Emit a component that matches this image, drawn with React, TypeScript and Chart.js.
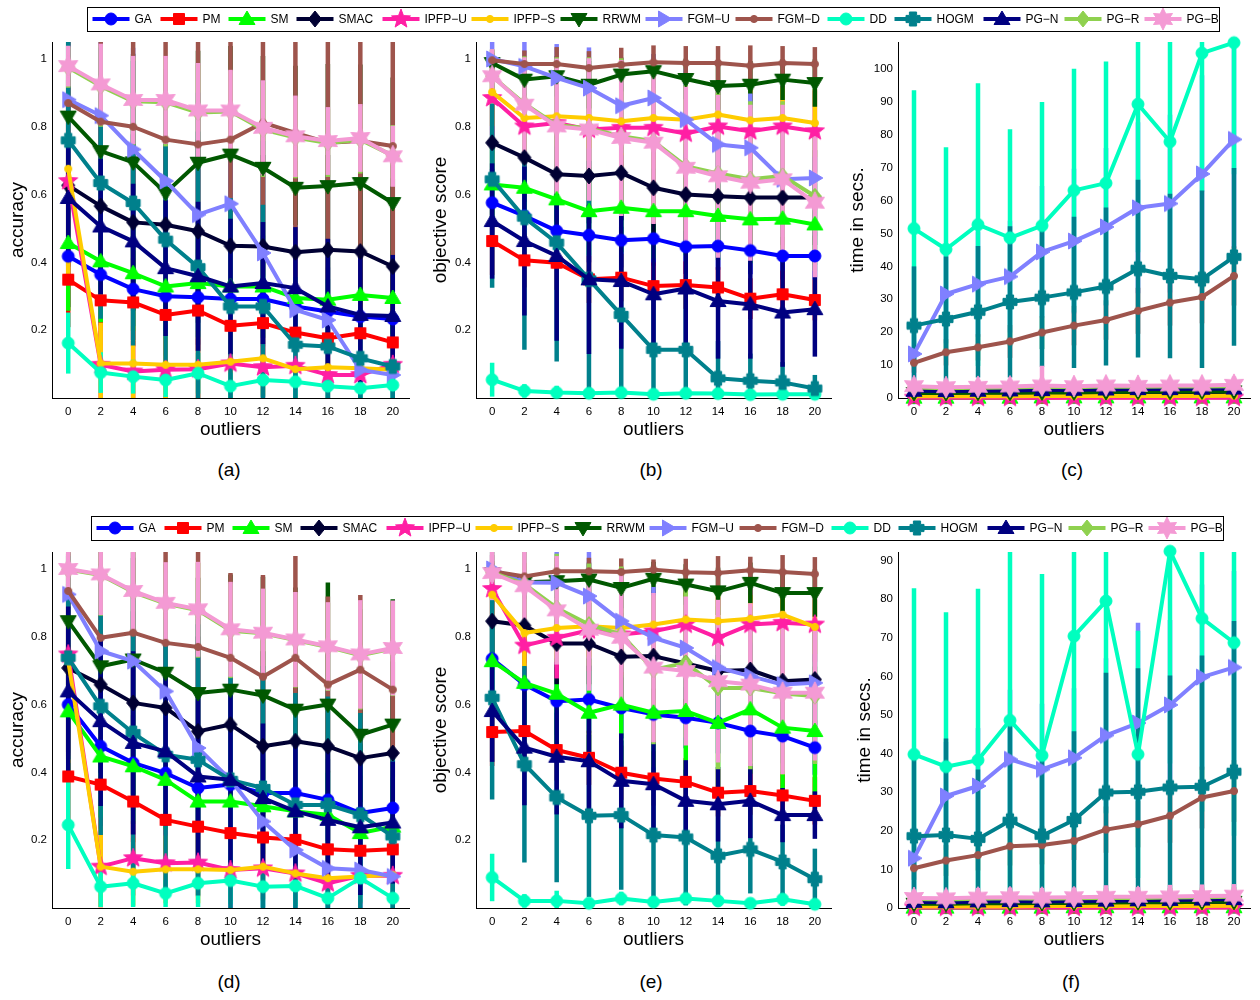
import React, { useEffect, useRef } from 'react';
import { Chart, registerables } from 'chart.js';

Chart.register(...registerables);
Chart.defaults.font.family = '"Liberation Sans", Arial, Helvetica, sans-serif';
Chart.defaults.color = '#000';

// ---------------- data ----------------
const SERIES = ['GA', 'PM', 'SM', 'SMAC', 'IPFP−U', 'IPFP−S', 'RRWM', 'FGM−U', 'FGM−D', 'DD', 'HOGM', 'PG−N', 'PG−R', 'PG−B'];
const COLORS = ['#0000ff', '#ff0000', '#00ff00', '#000033', '#ff1fa4', '#ffcc00', '#005800', '#8080ff', '#9e544c', '#00ffbf', '#00808c', '#000080', '#8fd14f', '#f49ad4'];
const MARKERS = ['circle', 'square', 'triUp', 'diamond', 'pentagram', 'dot', 'triDown', 'triRight', 'dot', 'circle', 'plus', 'triUp', 'diamond', 'hexagram'];
const OUTLIERS = [0, 2, 4, 6, 8, 10, 12, 14, 16, 18, 20];
const ACC_TICKS = [0.2, 0.4, 0.6, 0.8, 1];
const TIME_TICKS_C = [0, 10, 20, 30, 40, 50, 60, 70, 80, 90, 100];
const TIME_TICKS_F = [0, 10, 20, 30, 40, 50, 60, 70, 80, 90];

// (a) accuracy
const ACC_A = [
  [0.418, 0.364, 0.321, 0.300, 0.297, 0.292, 0.292, 0.270, 0.255, 0.240, 0.233],
  [0.349, 0.288, 0.282, 0.245, 0.258, 0.213, 0.221, 0.193, 0.176, 0.191, 0.164],
  [0.457, 0.403, 0.368, 0.329, 0.339, 0.329, 0.329, 0.295, 0.290, 0.304, 0.295],
  [0.627, 0.566, 0.518, 0.511, 0.492, 0.449, 0.447, 0.430, 0.437, 0.432, 0.388],
  [0.640, 0.098, 0.078, 0.083, 0.085, 0.102, 0.091, 0.095, 0.068, 0.068, 0.098],
  [0.676, 0.102, 0.102, 0.098, 0.098, 0.107, 0.117, 0.085, 0.091, 0.088, 0.083],
  [0.830, 0.728, 0.695, 0.605, 0.694, 0.718, 0.679, 0.620, 0.625, 0.634, 0.575],
  [0.880, 0.833, 0.733, 0.640, 0.541, 0.573, 0.428, 0.260, 0.230, 0.083, 0.068],
  [0.870, 0.815, 0.800, 0.762, 0.748, 0.762, 0.812, 0.782, 0.753, 0.758, 0.743],
  [0.162, 0.075, 0.063, 0.053, 0.073, 0.035, 0.053, 0.048, 0.035, 0.029, 0.038],
  [0.760, 0.634, 0.575, 0.467, 0.386, 0.270, 0.270, 0.157, 0.152, 0.117, 0.093],
  [0.590, 0.506, 0.462, 0.383, 0.359, 0.329, 0.339, 0.324, 0.270, 0.245, 0.242],
  [0.975, 0.920, 0.875, 0.872, 0.842, 0.845, 0.792, 0.768, 0.752, 0.762, 0.715],
  [0.979, 0.925, 0.879, 0.879, 0.848, 0.848, 0.797, 0.772, 0.758, 0.767, 0.713],
];
const ACC_A_ERR = [
  [0.15, 0.15, 0.15, 0.14, 0.14, 0.14, 0.14, 0.13, 0.13, 0.13, 0.13],
  [0.14, 0.13, 0.13, 0.12, 0.12, 0.11, 0.11, 0.10, 0.10, 0.10, 0.10],
  [0.20, 0.18, 0.17, 0.16, 0.16, 0.15, 0.15, 0.15, 0.14, 0.14, 0.14],
  [0.24, 0.26, 0.26, 0.27, 0.27, 0.28, 0.27, 0.27, 0.28, 0.27, 0.26],
  [0.30, 0.10, 0.09, 0.09, 0.09, 0.10, 0.09, 0.10, 0.08, 0.08, 0.09],
  [0.32, 0.12, 0.11, 0.10, 0.10, 0.11, 0.11, 0.09, 0.10, 0.09, 0.09],
  [0.25, 0.30, 0.32, 0.35, 0.33, 0.32, 0.33, 0.36, 0.36, 0.35, 0.37],
  [0.20, 0.25, 0.30, 0.33, 0.36, 0.36, 0.33, 0.25, 0.24, 0.12, 0.10],
  [0.30, 0.38, 0.42, 0.45, 0.48, 0.47, 0.45, 0.48, 0.50, 0.50, 0.50],
  [0.09, 0.06, 0.05, 0.05, 0.06, 0.04, 0.05, 0.05, 0.04, 0.03, 0.04],
  [0.30, 0.40, 0.42, 0.42, 0.40, 0.32, 0.30, 0.20, 0.20, 0.15, 0.12],
  [0.17, 0.20, 0.17, 0.20, 0.22, 0.20, 0.18, 0.18, 0.20, 0.20, 0.18],
  [0.06, 0.12, 0.13, 0.13, 0.14, 0.12, 0.14, 0.12, 0.10, 0.10, 0.09],
  [0.06, 0.12, 0.13, 0.13, 0.14, 0.12, 0.14, 0.12, 0.10, 0.10, 0.09],
];

// (b) objective score
const OBJ_B = [
  [0.576, 0.537, 0.493, 0.480, 0.465, 0.470, 0.446, 0.448, 0.435, 0.419, 0.419],
  [0.463, 0.406, 0.399, 0.350, 0.355, 0.330, 0.333, 0.326, 0.293, 0.306, 0.289],
  [0.630, 0.620, 0.586, 0.551, 0.561, 0.551, 0.551, 0.537, 0.527, 0.529, 0.512],
  [0.753, 0.709, 0.660, 0.655, 0.664, 0.620, 0.600, 0.595, 0.591, 0.591, 0.591],
  [0.885, 0.801, 0.811, 0.792, 0.797, 0.797, 0.780, 0.801, 0.787, 0.801, 0.787],
  [0.902, 0.826, 0.831, 0.826, 0.816, 0.826, 0.821, 0.836, 0.819, 0.826, 0.811],
  [0.988, 0.939, 0.949, 0.924, 0.954, 0.964, 0.941, 0.920, 0.924, 0.939, 0.929],
  [1.000, 0.978, 0.944, 0.914, 0.862, 0.885, 0.821, 0.748, 0.738, 0.645, 0.649],
  [0.996, 0.985, 0.985, 0.973, 0.983, 0.990, 0.988, 0.988, 0.980, 0.988, 0.985],
  [0.054, 0.021, 0.016, 0.014, 0.016, 0.011, 0.014, 0.013, 0.010, 0.011, 0.011],
  [0.645, 0.532, 0.458, 0.350, 0.245, 0.142, 0.142, 0.058, 0.051, 0.046, 0.028],
  [0.522, 0.463, 0.419, 0.350, 0.345, 0.306, 0.323, 0.286, 0.276, 0.252, 0.262],
  [0.949, 0.868, 0.805, 0.795, 0.772, 0.757, 0.684, 0.662, 0.645, 0.655, 0.595],
  [0.949, 0.865, 0.801, 0.792, 0.767, 0.753, 0.679, 0.654, 0.635, 0.645, 0.576],
];
const OBJ_B_ERR = [
  [0.10, 0.09, 0.09, 0.08, 0.08, 0.08, 0.08, 0.07, 0.07, 0.07, 0.07],
  [0.10, 0.08, 0.08, 0.07, 0.07, 0.07, 0.07, 0.06, 0.06, 0.07, 0.06],
  [0.12, 0.12, 0.12, 0.13, 0.13, 0.14, 0.13, 0.13, 0.13, 0.13, 0.12],
  [0.12, 0.13, 0.14, 0.14, 0.14, 0.15, 0.15, 0.15, 0.14, 0.14, 0.14],
  [0.11, 0.12, 0.12, 0.13, 0.13, 0.12, 0.13, 0.12, 0.13, 0.12, 0.12],
  [0.10, 0.09, 0.09, 0.09, 0.10, 0.09, 0.10, 0.09, 0.10, 0.09, 0.10],
  [0.03, 0.06, 0.06, 0.07, 0.05, 0.05, 0.06, 0.07, 0.07, 0.06, 0.07],
  [0.06, 0.08, 0.10, 0.12, 0.14, 0.13, 0.15, 0.16, 0.16, 0.17, 0.17],
  [0.03, 0.04, 0.05, 0.05, 0.05, 0.05, 0.05, 0.05, 0.06, 0.05, 0.05],
  [0.05, 0.02, 0.02, 0.01, 0.01, 0.01, 0.01, 0.01, 0.01, 0.01, 0.01],
  [0.32, 0.39, 0.35, 0.35, 0.26, 0.20, 0.18, 0.11, 0.08, 0.06, 0.04],
  [0.17, 0.22, 0.25, 0.22, 0.20, 0.18, 0.17, 0.17, 0.16, 0.16, 0.14],
  [0.08, 0.14, 0.20, 0.21, 0.23, 0.24, 0.24, 0.24, 0.23, 0.22, 0.22],
  [0.08, 0.14, 0.20, 0.21, 0.23, 0.24, 0.24, 0.24, 0.23, 0.22, 0.22],
];

// (c) time in secs.
const TIME_C = [
  [0.2, 0.2, 0.2, 0.3, 0.3, 0.3, 0.3, 0.3, 0.4, 0.4, 0.4],
  [0.1, 0.1, 0.1, 0.1, 0.1, 0.2, 0.2, 0.2, 0.2, 0.2, 0.2],
  [0.1, 0.1, 0.1, 0.1, 0.2, 0.2, 0.2, 0.2, 0.2, 0.2, 0.2],
  [1.0, 1.0, 1.1, 1.1, 1.2, 1.2, 1.3, 1.3, 1.4, 1.4, 1.5],
  [0.1, 0.1, 0.1, 0.1, 0.1, 0.1, 0.1, 0.1, 0.1, 0.1, 0.1],
  [0.5, 0.5, 0.5, 0.5, 0.6, 0.6, 0.6, 0.6, 0.6, 0.6, 0.7],
  [1.5, 1.5, 1.6, 1.6, 1.7, 1.7, 1.8, 1.9, 1.9, 2.0, 2.0],
  [13.4, 31.6, 34.6, 36.9, 44.4, 47.7, 52.0, 57.8, 59.1, 68.1, 78.6],
  [10.7, 13.9, 15.4, 17.2, 19.9, 22.0, 23.7, 26.5, 29.0, 30.7, 37.1],
  [51.5, 45.2, 52.7, 48.7, 52.4, 63.1, 65.3, 89.3, 77.9, 104.8, 108.0],
  [22.0, 24.0, 26.2, 29.2, 30.5, 32.1, 33.9, 39.3, 37.1, 36.1, 42.9],
  [2.2, 2.1, 2.2, 2.3, 2.4, 2.5, 2.6, 2.7, 2.7, 2.8, 2.9],
  [3.2, 3.0, 3.1, 3.2, 3.4, 3.3, 3.5, 3.4, 3.5, 3.5, 3.6],
  [3.6, 3.3, 3.4, 3.5, 3.8, 3.6, 3.8, 3.7, 3.8, 3.8, 4.0],
];
const TIME_C_ERR = [
  [0.1, 0.1, 0.1, 0.1, 0.1, 0.1, 0.1, 0.1, 0.1, 0.1, 0.1],
  [0.1, 0.1, 0.1, 0.1, 0.1, 0.1, 0.1, 0.1, 0.1, 0.1, 0.1],
  [0.1, 0.1, 0.1, 0.1, 0.1, 0.1, 0.1, 0.1, 0.1, 0.1, 0.1],
  [0.4, 0.4, 0.4, 0.5, 0.5, 0.5, 0.5, 0.5, 0.6, 0.6, 0.6],
  [0.1, 0.1, 0.1, 0.1, 0.1, 0.1, 0.1, 0.1, 0.1, 0.1, 0.1],
  [0.2, 0.2, 0.2, 0.2, 0.2, 0.2, 0.2, 0.2, 0.2, 0.2, 0.3],
  [0.5, 0.5, 0.6, 0.6, 0.6, 0.6, 0.7, 0.7, 0.7, 0.8, 0.8],
  [8, 15, 16, 17, 20, 22, 24, 26, 27, 30, 33],
  [3, 4, 4, 5, 5, 6, 6, 7, 7, 8, 9],
  [42, 31, 43, 33, 37.6, 37, 37, 45, 40, 42, 40],
  [18, 19, 20, 23, 21, 23, 24, 27, 25, 27, 27],
  [0.8, 0.8, 0.8, 0.9, 0.9, 0.9, 1.0, 1.0, 1.0, 1.1, 1.1],
  [1.0, 1.0, 1.0, 1.2, 1.5, 1.2, 1.4, 1.3, 1.4, 1.4, 1.6],
  [2.0, 1.5, 1.5, 2.0, 6.0, 1.5, 2.0, 1.5, 2.0, 1.5, 2.5],
];

// (d) accuracy
const ACC_D = [
  [0.600, 0.477, 0.428, 0.398, 0.354, 0.364, 0.339, 0.339, 0.319, 0.280, 0.295],
  [0.388, 0.364, 0.314, 0.260, 0.240, 0.221, 0.208, 0.201, 0.173, 0.169, 0.173],
  [0.580, 0.447, 0.418, 0.378, 0.314, 0.314, 0.300, 0.285, 0.275, 0.221, 0.240],
  [0.708, 0.659, 0.605, 0.590, 0.521, 0.541, 0.477, 0.492, 0.477, 0.442, 0.457],
  [0.748, 0.122, 0.147, 0.132, 0.134, 0.112, 0.117, 0.102, 0.073, 0.095, 0.095],
  [0.728, 0.122, 0.107, 0.114, 0.114, 0.112, 0.122, 0.102, 0.088, 0.093, 0.098],
  [0.846, 0.713, 0.733, 0.694, 0.634, 0.644, 0.627, 0.585, 0.600, 0.511, 0.541],
  [0.925, 0.758, 0.728, 0.639, 0.472, 0.378, 0.255, 0.171, 0.117, 0.112, 0.093],
  [0.935, 0.797, 0.812, 0.782, 0.770, 0.738, 0.682, 0.738, 0.659, 0.703, 0.644],
  [0.245, 0.063, 0.073, 0.043, 0.073, 0.081, 0.063, 0.065, 0.029, 0.088, 0.029],
  [0.738, 0.595, 0.516, 0.452, 0.437, 0.378, 0.354, 0.304, 0.304, 0.275, 0.211],
  [0.639, 0.551, 0.487, 0.462, 0.388, 0.378, 0.324, 0.285, 0.260, 0.238, 0.252],
  [0.998, 0.982, 0.932, 0.898, 0.878, 0.818, 0.810, 0.790, 0.770, 0.745, 0.765],
  [1.000, 0.984, 0.935, 0.900, 0.881, 0.822, 0.812, 0.792, 0.772, 0.748, 0.767],
];
const ACC_D_ERR = [
  [0.15, 0.14, 0.14, 0.13, 0.13, 0.13, 0.12, 0.12, 0.12, 0.11, 0.11],
  [0.14, 0.13, 0.12, 0.11, 0.11, 0.10, 0.10, 0.10, 0.09, 0.09, 0.09],
  [0.20, 0.18, 0.17, 0.16, 0.15, 0.15, 0.14, 0.14, 0.13, 0.12, 0.12],
  [0.25, 0.26, 0.27, 0.27, 0.28, 0.28, 0.28, 0.28, 0.28, 0.27, 0.27],
  [0.30, 0.12, 0.11, 0.10, 0.10, 0.09, 0.09, 0.09, 0.07, 0.08, 0.08],
  [0.30, 0.12, 0.10, 0.10, 0.10, 0.09, 0.10, 0.09, 0.08, 0.08, 0.08],
  [0.20, 0.30, 0.30, 0.32, 0.34, 0.34, 0.35, 0.36, 0.36, 0.37, 0.37],
  [0.15, 0.30, 0.32, 0.35, 0.38, 0.40, 0.36, 0.30, 0.20, 0.20, 0.15],
  [0.20, 0.30, 0.28, 0.30, 0.30, 0.25, 0.30, 0.30, 0.26, 0.22, 0.26],
  [0.13, 0.06, 0.07, 0.04, 0.07, 0.07, 0.06, 0.06, 0.03, 0.07, 0.03],
  [0.30, 0.38, 0.40, 0.40, 0.40, 0.38, 0.36, 0.33, 0.32, 0.30, 0.25],
  [0.25, 0.25, 0.27, 0.22, 0.25, 0.25, 0.22, 0.20, 0.20, 0.20, 0.18],
  [0.08, 0.12, 0.12, 0.12, 0.14, 0.14, 0.13, 0.14, 0.13, 0.16, 0.14],
  [0.08, 0.12, 0.12, 0.12, 0.14, 0.14, 0.13, 0.14, 0.13, 0.16, 0.14],
];

// (e) objective score
const OBJ_E = [
  [0.735, 0.659, 0.610, 0.615, 0.590, 0.571, 0.561, 0.546, 0.522, 0.507, 0.473],
  [0.519, 0.522, 0.466, 0.443, 0.399, 0.382, 0.372, 0.340, 0.345, 0.332, 0.316],
  [0.728, 0.664, 0.632, 0.576, 0.600, 0.576, 0.581, 0.546, 0.586, 0.532, 0.522],
  [0.846, 0.833, 0.780, 0.780, 0.741, 0.743, 0.721, 0.699, 0.702, 0.669, 0.674],
  [0.941, 0.774, 0.797, 0.819, 0.807, 0.816, 0.836, 0.797, 0.836, 0.841, 0.836],
  [0.924, 0.811, 0.826, 0.831, 0.826, 0.836, 0.851, 0.846, 0.853, 0.865, 0.829],
  [0.988, 0.961, 0.964, 0.969, 0.944, 0.971, 0.954, 0.934, 0.959, 0.929, 0.929],
  [1.000, 0.960, 0.959, 0.920, 0.846, 0.797, 0.767, 0.709, 0.684, 0.659, 0.664],
  [0.993, 0.978, 0.993, 0.993, 0.991, 0.998, 0.990, 0.988, 0.996, 0.991, 0.985],
  [0.090, 0.021, 0.021, 0.014, 0.028, 0.018, 0.028, 0.021, 0.014, 0.026, 0.011],
  [0.620, 0.424, 0.326, 0.272, 0.274, 0.215, 0.208, 0.154, 0.173, 0.136, 0.085],
  [0.581, 0.473, 0.446, 0.433, 0.375, 0.365, 0.316, 0.306, 0.316, 0.274, 0.274],
  [0.990, 0.955, 0.885, 0.836, 0.807, 0.703, 0.723, 0.649, 0.649, 0.633, 0.625],
  [0.988, 0.949, 0.878, 0.821, 0.797, 0.709, 0.699, 0.669, 0.659, 0.635, 0.635],
];
const OBJ_E_ERR = [
  [0.10, 0.10, 0.10, 0.10, 0.09, 0.09, 0.09, 0.09, 0.09, 0.08, 0.08],
  [0.10, 0.09, 0.09, 0.08, 0.08, 0.08, 0.07, 0.07, 0.07, 0.07, 0.07],
  [0.12, 0.14, 0.15, 0.16, 0.18, 0.18, 0.19, 0.20, 0.19, 0.19, 0.19],
  [0.10, 0.11, 0.12, 0.12, 0.13, 0.13, 0.14, 0.14, 0.14, 0.14, 0.14],
  [0.10, 0.14, 0.12, 0.12, 0.12, 0.12, 0.11, 0.12, 0.11, 0.11, 0.11],
  [0.09, 0.10, 0.09, 0.09, 0.09, 0.08, 0.08, 0.08, 0.07, 0.07, 0.08],
  [0.03, 0.05, 0.05, 0.05, 0.06, 0.05, 0.06, 0.07, 0.06, 0.07, 0.07],
  [0.06, 0.12, 0.12, 0.14, 0.15, 0.15, 0.15, 0.15, 0.15, 0.15, 0.15],
  [0.03, 0.04, 0.04, 0.04, 0.04, 0.03, 0.04, 0.05, 0.04, 0.05, 0.05],
  [0.07, 0.02, 0.03, 0.01, 0.02, 0.01, 0.02, 0.01, 0.01, 0.02, 0.01],
  [0.30, 0.29, 0.25, 0.24, 0.22, 0.20, 0.20, 0.15, 0.13, 0.11, 0.09],
  [0.15, 0.17, 0.17, 0.15, 0.14, 0.13, 0.12, 0.11, 0.11, 0.08, 0.07],
  [0.08, 0.14, 0.16, 0.18, 0.20, 0.22, 0.22, 0.24, 0.24, 0.24, 0.20],
  [0.08, 0.14, 0.16, 0.18, 0.20, 0.22, 0.22, 0.24, 0.24, 0.24, 0.20],
];

// (f) time in secs.
const TIME_F = [
  [0.2, 0.2, 0.2, 0.2, 0.3, 0.3, 0.3, 0.3, 0.3, 0.3, 0.3],
  [0.1, 0.1, 0.1, 0.1, 0.1, 0.1, 0.1, 0.2, 0.2, 0.2, 0.2],
  [0.1, 0.1, 0.1, 0.1, 0.1, 0.2, 0.2, 0.2, 0.2, 0.2, 0.2],
  [0.8, 0.8, 0.9, 0.9, 1.0, 1.0, 1.1, 1.1, 1.2, 1.2, 1.3],
  [0.1, 0.1, 0.1, 0.1, 0.1, 0.1, 0.1, 0.1, 0.1, 0.1, 0.1],
  [0.4, 0.4, 0.4, 0.4, 0.5, 0.5, 0.5, 0.5, 0.5, 0.5, 0.6],
  [1.1, 1.1, 1.2, 1.2, 1.3, 1.3, 1.4, 1.5, 1.5, 1.6, 1.6],
  [12.9, 29.0, 31.6, 38.5, 35.9, 38.9, 44.7, 47.9, 52.6, 59.8, 62.3],
  [10.3, 12.3, 13.7, 16.0, 16.3, 17.4, 20.3, 21.7, 23.9, 28.6, 30.3],
  [39.8, 36.6, 38.3, 48.6, 39.5, 70.4, 79.5, 39.8, 92.4, 75.0, 68.7],
  [18.6, 18.9, 17.9, 22.6, 18.7, 22.8, 29.9, 30.1, 31.2, 31.4, 35.3],
  [1.6, 1.5, 1.7, 1.8, 1.7, 1.8, 1.9, 2.0, 2.1, 2.2, 2.3],
  [2.3, 2.2, 2.4, 2.5, 2.4, 2.5, 2.6, 2.6, 2.7, 2.8, 2.9],
  [2.6, 2.5, 2.7, 2.8, 2.7, 2.8, 2.9, 2.9, 3.0, 3.1, 3.2],
];
const TIME_F_ERR = [
  [0.1, 0.1, 0.1, 0.1, 0.1, 0.1, 0.1, 0.1, 0.1, 0.1, 0.1],
  [0.1, 0.1, 0.1, 0.1, 0.1, 0.1, 0.1, 0.1, 0.1, 0.1, 0.1],
  [0.1, 0.1, 0.1, 0.1, 0.1, 0.1, 0.1, 0.1, 0.1, 0.1, 0.1],
  [0.4, 0.4, 0.4, 0.4, 0.5, 0.5, 0.5, 0.5, 0.5, 0.5, 0.6],
  [0.1, 0.1, 0.1, 0.1, 0.1, 0.1, 0.1, 0.1, 0.1, 0.1, 0.1],
  [0.2, 0.2, 0.2, 0.2, 0.2, 0.2, 0.2, 0.2, 0.2, 0.2, 0.2],
  [0.5, 0.5, 0.5, 0.5, 0.6, 0.6, 0.6, 0.6, 0.7, 0.7, 0.7],
  [8, 14, 15, 18, 17, 18, 20, 26, 22, 24, 25],
  [3, 4, 4, 5, 5, 5, 6, 6, 7, 8, 8],
  [43, 40, 44.4, 50, 47, 50, 55, 32, 55, 50, 50],
  [20, 25, 18, 25, 22, 23, 31, 32, 29, 34, 39],
  [0.8, 0.8, 0.9, 0.9, 0.9, 1.0, 1.0, 1.0, 1.1, 1.1, 1.2],
  [1.5, 1.5, 2.0, 2.0, 2.0, 2.0, 2.5, 2.0, 2.5, 2.5, 2.5],
  [2.0, 2.0, 2.5, 2.5, 2.5, 2.5, 3.0, 2.5, 3.0, 3.0, 3.0],
];

// ---------------- markers ----------------
function tracePath(ctx: CanvasRenderingContext2D, shape: string) {
  const poly = (pts: number[][]) => {
    ctx.moveTo(pts[0][0], pts[0][1]);
    for (let i = 1; i < pts.length; i++) ctx.lineTo(pts[i][0], pts[i][1]);
    ctx.closePath();
  };
  const star = (n: number, ro: number, ri: number) => {
    const pts: number[][] = [];
    for (let k = 0; k < 2 * n; k++) {
      const r = k % 2 === 0 ? ro : ri;
      const a = -Math.PI / 2 + (k * Math.PI) / n;
      pts.push([r * Math.cos(a), r * Math.sin(a)]);
    }
    poly(pts);
  };
  ctx.beginPath();
  switch (shape) {
    case 'circle': ctx.arc(0, 0, 6, 0, Math.PI * 2); break;
    case 'dot': ctx.arc(0, 0, 3.6, 0, Math.PI * 2); break;
    case 'square': ctx.rect(-5.5, -5.5, 11, 11); break;
    case 'plus': {
      const a = 7, t = 3.6;
      poly([[-t, -a], [t, -a], [t, -t], [a, -t], [a, t], [t, t], [t, a], [-t, a], [-t, t], [-a, t], [-a, -t], [-t, -t]]);
      break;
    }
    case 'triUp': poly([[0, -8], [8, 5.5], [-8, 5.5]]); break;
    case 'triDown': poly([[0, 8], [8, -5.5], [-8, -5.5]]); break;
    case 'triRight': poly([[8, 0], [-5.5, -8], [-5.5, 8]]); break;
    case 'diamond': poly([[0, -8], [6.5, 0], [0, 8], [-6.5, 0]]); break;
    case 'pentagram': star(5, 10, 4.2); break;
    case 'hexagram': star(6, 11, 5.8); break;
    default: ctx.arc(0, 0, 5, 0, Math.PI * 2);
  }
}

function drawMarker(ctx: CanvasRenderingContext2D, shape: string, color: string, x: number, y: number) {
  ctx.save();
  ctx.translate(x, y);
  ctx.fillStyle = color;
  ctx.strokeStyle = color;
  ctx.lineWidth = 1;
  tracePath(ctx, shape);
  ctx.fill();
  ctx.stroke();
  ctx.restore();
}

const markerCache: Record<string, HTMLCanvasElement> = {};
function markerImage(shape: string, color: string): HTMLCanvasElement {
  const key = shape + color;
  if (!markerCache[key]) {
    const c = document.createElement('canvas');
    c.width = 28;
    c.height = 28;
    const ctx = c.getContext('2d')!;
    drawMarker(ctx, shape, color, 14, 14);
    markerCache[key] = c;
  }
  return markerCache[key];
}

// ---------------- panels ----------------
interface PanelSpec {
  means: number[][];
  errs: number[][];
  yMax: number;
  yTicks: number[];
  yTitle: string;
  L: number; R: number; T: number; B: number;
  titlePad: number;
  padRight: number;
}

const YW = 52;
const XH = 44;
const PT = 14;

function makeErrorPlugin(means: number[][], errs: number[][]) {
  return {
    id: 'errorBars',
    beforeDatasetsDraw(chart: any) {
      const { ctx, chartArea, scales } = chart;
      ctx.save();
      ctx.beginPath();
      ctx.rect(chartArea.left, chartArea.top, chartArea.right - chartArea.left, chartArea.bottom - chartArea.top);
      ctx.clip();
      ctx.lineWidth = 4.5;
      ctx.lineCap = 'butt';
      means.forEach((m, si) => {
        ctx.strokeStyle = COLORS[si];
        m.forEach((v, i) => {
          const x = scales.x.getPixelForValue(OUTLIERS[i]);
          const y1 = scales.y.getPixelForValue(v - errs[si][i]);
          const y2 = scales.y.getPixelForValue(v + errs[si][i]);
          ctx.beginPath();
          ctx.moveTo(x, y1);
          ctx.lineTo(x, y2);
          ctx.stroke();
        });
      });
      ctx.restore();
    },
  };
}

function Panel({ spec }: { spec: PanelSpec }) {
  const ref = useRef<HTMLCanvasElement>(null);
  const width = YW + (spec.R - spec.L) + spec.padRight;
  const height = PT + (spec.B - spec.T) + XH;
  useEffect(() => {
    const canvas = ref.current!;
    const datasets = SERIES.map((name, si) => ({
      label: name,
      data: OUTLIERS.map((x, i) => ({ x, y: spec.means[si][i] })),
      borderColor: COLORS[si],
      backgroundColor: COLORS[si],
      borderWidth: 4,
      borderJoinStyle: 'round' as const,
      pointStyle: markerImage(MARKERS[si], COLORS[si]) as any,
      pointRadius: 6,
      pointHoverRadius: 6,
      clip: false as any,
      order: SERIES.length - si,
      tension: 0,
    }));
    const chart = new Chart(canvas, {
      type: 'line',
      data: { datasets },
      options: {
        animation: false,
        responsive: false,
        events: [],
        layout: { padding: { top: PT, right: spec.padRight, bottom: 0, left: 0 } },
        plugins: { legend: { display: false }, tooltip: { enabled: false } },
        scales: {
          x: {
            type: 'linear',
            min: -1,
            max: 21,
            afterBuildTicks: (s: any) => { s.ticks = OUTLIERS.map((v) => ({ value: v })); },
            afterFit: (s: any) => { s.height = XH; },
            grid: { display: false, drawTicks: false },
            border: { display: true, color: '#000', width: 1 },
            ticks: { padding: 7, autoSkip: false, maxRotation: 0, font: { size: 11.5 }, color: '#000', callback: (v: any) => String(v) },
            title: { display: true, text: 'outliers', font: { size: 19 }, color: '#000', padding: { top: 0, bottom: 1 } },
          },
          y: {
            type: 'linear',
            min: 0,
            max: spec.yMax,
            afterBuildTicks: (s: any) => { s.ticks = spec.yTicks.map((v) => ({ value: v })); },
            afterFit: (s: any) => { s.width = YW; },
            grid: { display: false, drawTicks: false },
            border: { display: true, color: '#000', width: 1 },
            ticks: { padding: 5, autoSkip: false, font: { size: 11.5 }, color: '#000', callback: (v: any) => String(v) },
            title: { display: true, text: spec.yTitle, font: { size: 19 }, color: '#000', padding: { top: spec.titlePad, bottom: 0 } },
          },
        },
      } as any,
      plugins: [makeErrorPlugin(spec.means, spec.errs)],
    });
    return () => chart.destroy();
  }, []);
  return (
    <canvas
      ref={ref}
      width={width}
      height={height}
      style={{ position: 'absolute', left: spec.L - YW, top: spec.T - PT, width, height }}
    />
  );
}

// ---------------- legend ----------------
const LEG_OFFSETS = [6, 74, 142, 210, 296, 385, 474, 559, 649, 741, 808, 897, 978, 1058];
const LEG_W = 1133;
const LEG_H = 25;

function Legend({ left, top }: { left: number; top: number }) {
  const ref = useRef<HTMLCanvasElement>(null);
  useEffect(() => {
    const c = ref.current!;
    const ctx = c.getContext('2d')!;
    ctx.clearRect(0, 0, c.width, c.height);
    const cy = (LEG_H - 3) / 2;
    SERIES.forEach((_, si) => {
      const x0 = LEG_OFFSETS[si] - 1.5;
      ctx.strokeStyle = COLORS[si];
      ctx.lineWidth = 4;
      ctx.beginPath();
      ctx.moveTo(x0, cy);
      ctx.lineTo(x0 + 37, cy);
      ctx.stroke();
      drawMarker(ctx, MARKERS[si], COLORS[si], x0 + 18.5, cy);
    });
  }, []);
  return (
    <div
      style={{
        position: 'absolute', left, top, width: LEG_W, height: LEG_H, boxSizing: 'border-box',
        border: '1.5px solid #000', background: '#fff', zIndex: 2,
      }}
    >
      <canvas ref={ref} width={LEG_W - 3} height={LEG_H - 3} style={{ position: 'absolute', left: 0, top: 0 }} />
      {SERIES.map((name, si) => (
        <span
          key={name}
          style={{
            position: 'absolute', left: LEG_OFFSETS[si] + 40.5, top: 0, lineHeight: `${LEG_H - 3}px`,
            fontSize: 12, fontFamily: '"Liberation Sans", Arial, sans-serif', color: '#000', whiteSpace: 'nowrap',
          }}
        >
          {name}
        </span>
      ))}
    </div>
  );
}

const PANELS: PanelSpec[] = [
  { means: ACC_A, errs: ACC_A_ERR, yMax: 1.05, yTicks: ACC_TICKS, yTitle: 'accuracy', L: 52, R: 409, T: 42, B: 398, titlePad: 6, padRight: 14 },
  { means: OBJ_B, errs: OBJ_B_ERR, yMax: 1.05, yTicks: ACC_TICKS, yTitle: 'objective score', L: 476, R: 831, T: 42, B: 398, titlePad: 5, padRight: 14 },
  { means: TIME_C, errs: TIME_C_ERR, yMax: 108.2, yTicks: TIME_TICKS_C, yTitle: 'time in secs.', L: 898, R: 1254, T: 42, B: 398, titlePad: 0, padRight: 6 },
  { means: ACC_D, errs: ACC_D_ERR, yMax: 1.05, yTicks: ACC_TICKS, yTitle: 'accuracy', L: 52, R: 409, T: 552, B: 908, titlePad: 6, padRight: 14 },
  { means: OBJ_E, errs: OBJ_E_ERR, yMax: 1.05, yTicks: ACC_TICKS, yTitle: 'objective score', L: 476, R: 831, T: 552, B: 908, titlePad: 5, padRight: 14 },
  { means: TIME_F, errs: TIME_F_ERR, yMax: 92.2, yTicks: TIME_TICKS_F, yTitle: 'time in secs.', L: 898, R: 1254, T: 552, B: 908, titlePad: 7, padRight: 6 },
];

const PANEL_LABELS = ['(a)', '(b)', '(c)', '(d)', '(e)', '(f)'];
const LABEL_POS = [[229, 470], [651, 470], [1072, 470], [229, 982], [651, 982], [1071, 982]];

export default function App() {
  return (
    <div style={{ position: 'absolute', left: 0, top: 0, width: 1260, height: 1000, overflow: 'hidden', background: '#fff' }}>
      {PANELS.map((p, i) => (
        <Panel key={i} spec={p} />
      ))}
      <Legend left={87} top={7} />
      <Legend left={91} top={516} />
      {PANEL_LABELS.map((t, i) => (
        <div
          key={t}
          style={{
            position: 'absolute', left: LABEL_POS[i][0] - 50, top: LABEL_POS[i][1] - 12, width: 100, height: 24,
            lineHeight: '24px', textAlign: 'center', fontSize: 19, fontFamily: '"Liberation Sans", Arial, sans-serif', color: '#000',
          }}
        >
          {t}
        </div>
      ))}
    </div>
  );
}
